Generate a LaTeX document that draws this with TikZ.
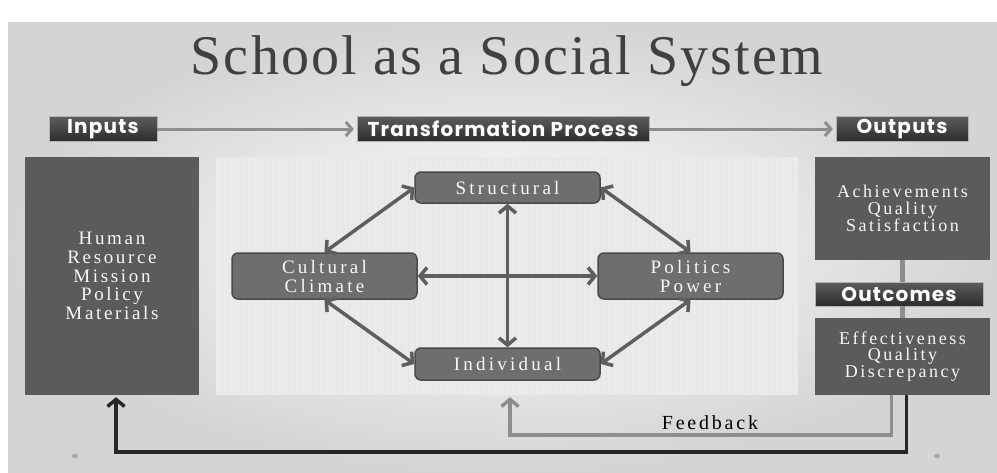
\documentclass[tikz,border=0pt]{standalone}
\usepackage{fontspec}
\setmainfont{Liberation Serif}
\newfontfamily\spacedfont{Liberation Serif}[LetterSpace=14]
\newfontfamily\factorfont{Liberation Serif}[LetterSpace=17]
\newfontfamily\titlefont{Liberation Serif}[LetterSpace=4]
\newfontfamily\labelfont{Poppins}[LetterSpace=6]
\usepackage{tikz}
\usetikzlibrary{arrows.meta}
\definecolor{slideedge}{HTML}{D4D4D4}
\definecolor{panelgray}{HTML}{EAEAEA}
\definecolor{gridgray}{HTML}{E5E5E5}
\definecolor{boxgray}{HTML}{5B5B5B}
\definecolor{nodegray}{HTML}{6E6E6E}
\definecolor{nodeedge}{HTML}{4A4A4A}
\definecolor{arrowgray}{HTML}{5E5E5E}
\definecolor{linegray}{HTML}{8E8E8E}
\definecolor{titlegray}{HTML}{404040}
\definecolor{labeltop}{HTML}{5C5C5C}
\definecolor{labelbottom}{HTML}{2C2C2C}

\begin{document}
\begin{tikzpicture}[x=1pt,y=-1pt,
  bigbox/.style={fill=boxgray, text=white!94!gray, align=center, inner sep=0pt,
    font=\spacedfont\fontsize{18}{16.5}\selectfont},
  factor/.style={fill=nodegray, draw=nodeedge, line width=1.5pt, rounded corners=6pt,
    text=white!94!gray, align=center, inner sep=0pt, minimum width=185pt,
    font=\factorfont\fontsize{19}{19}\selectfont},
  stage/.style={top color=labeltop, bottom color=labelbottom, draw=gray!60, line width=0.4pt,
    text=white, inner sep=0pt, minimum height=25pt, font=\labelfont\bfseries\fontsize{20}{20}\selectfont},
  bidir/.style={draw=arrowgray, line width=3.5pt,
    {Straight Barb[length=7pt,width=17pt]}-{Straight Barb[length=7pt,width=17pt]}},
  flow/.style={draw=linegray, line width=3pt, -{Straight Barb[length=6pt,width=14pt]}, shorten >=3pt},
  link/.style={draw=linegray, line width=5pt},
  loopback/.style={draw=#1, line width=3.5pt, -{Straight Barb[length=7pt,width=17pt]}, shorten >=2pt}
]
\useasboundingbox (0,0) rectangle (997,472);
\shade[inner color=white, outer color=slideedge] (8,22) rectangle (997,472);

\node (title) at (507,61) {\titlefont\fontsize{56}{56}\selectfont\color{titlegray}School as a Social System};

\node[stage, minimum width=108pt] (inputs) at (103,129) {Inputs};
\node[stage, minimum width=292pt] (trans) at (503,129) {Transformation Process};
\node[stage, minimum width=132pt] (outputs) at (902,129) {Outputs};
\draw[flow] (inputs) -- (trans);
\draw[flow] (trans) -- (outputs);

\node[bigbox, minimum width=174pt, minimum height=238pt, font=\spacedfont\fontsize{19}{18.6}\selectfont]
  (resources) at (112,276) {Human\\Resource\\Mission\\Policy\\Materials};

\node[fill=panelgray, inner sep=0pt, minimum width=582pt, minimum height=238pt] (panel) at (507,276) {};
\draw[step=6, color=gridgray, line width=0.3pt] (217,158) grid (797,394);

\node[factor, minimum height=31pt] (structural) at (507.5,187.5) {Structural};
\node[factor, minimum height=32pt] (individual) at (507.5,364) {Individual};
\node[factor, minimum height=46pt] (cultural) at (324.5,276) {Cultural\\Climate};
\node[factor, minimum height=46pt] (politics) at (690.5,276) {Politics\\Power};
\draw[bidir] (structural.west) -- (cultural.north);
\draw[bidir] (structural.east) -- (politics.north);
\draw[bidir] (cultural.south) -- (individual.west);
\draw[bidir] (politics.south) -- (individual.east);
\draw[bidir] (structural.south) -- (individual.north);
\draw[bidir] (cultural.east) -- (politics.west);

\node[bigbox, minimum width=175pt, minimum height=103pt] (achieve) at (902.5,208.5)
  {Achievements\\Quality\\Satisfaction};
\node[stage, minimum width=168pt, minimum height=24pt] (outcomes) at (899,294) {Outcomes};
\node[bigbox, minimum width=175pt, minimum height=77pt] (effect) at (902.5,356.5)
  {Effectiveness\\Quality\\Discrepancy};
\draw[link] (achieve.south) -- (achieve.south |- outcomes.north);
\draw[link] (achieve.south |- outcomes.south) -- (achieve.south |- effect.north);

\coordinate (fbturn) at (510,435);
\coordinate (retturn) at (116,452);
\draw[loopback=linegray] ([xshift=-11pt]effect.south) |- (fbturn) -- ([xshift=3pt]panel.south);
\draw[loopback=black!85] ([xshift=4pt]effect.south) |- (retturn) -- ([xshift=4pt]resources.south);
\node (feedback) at (710,423) {\spacedfont\fontsize{20}{20}\selectfont Feedback};

\fill[gray!70] (75,456) ellipse (3pt and 2.2pt);
\fill[gray!70] (937,456) ellipse (3pt and 2.2pt);
\end{tikzpicture}
\end{document}
